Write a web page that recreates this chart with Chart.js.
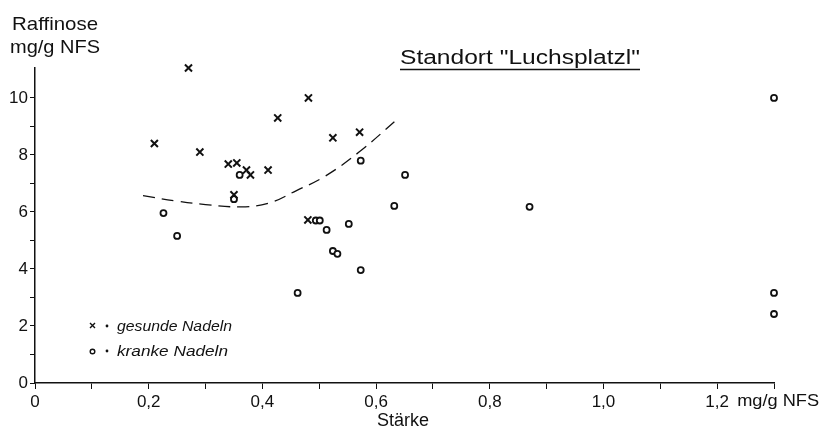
<!DOCTYPE html>
<html>
<head>
<meta charset="utf-8">
<script src="https://cdn.jsdelivr.net/npm/chart.js@4.4.0/dist/chart.umd.min.js"></script>
<style>
html,body{margin:0;padding:0;background:#fff;}
#wrap{width:830px;height:435px;}
</style>
</head>
<body>
<div id="wrap"><canvas id="c" width="830" height="435"></canvas></div>
<script>
// ---- data ----
const healthyX = [0.21, 0.27, 0.29, 0.34, 0.355, 0.35, 0.372, 0.379, 0.41, 0.427, 0.481, 0.524, 0.571, 0.48];
const healthyY = [8.4, 11.05, 8.1, 7.68, 7.72, 6.6, 7.47, 7.3, 7.47, 9.3, 10.0, 8.6, 8.8, 5.72];

const diseasedX = [0.226, 0.25, 0.36, 0.35, 0.462, 0.494, 0.501, 0.513, 0.524, 0.532, 0.552, 0.573, 0.573, 0.632, 0.651, 0.87, 1.3, 1.3, 1.3];
const diseasedY = [5.96, 5.16, 7.3, 6.45, 3.16, 5.7, 5.7, 5.37, 4.63, 4.53, 5.58, 7.8, 3.96, 6.21, 7.3, 6.18, 10.0, 3.16, 2.42];

const curveX = [0.19, 0.25, 0.30, 0.36, 0.41, 0.46, 0.51, 0.57, 0.64];
const curveY = [6.57, 6.38, 6.26, 6.18, 6.30, 6.75, 7.25, 8.10, 9.30];

const xTickValues = [0, 0.1, 0.2, 0.3, 0.4, 0.5, 0.6, 0.7, 0.8, 0.9, 1.0, 1.1, 1.2, 1.3];
const xTickLabels = ['0', '', '0,2', '', '0,4', '', '0,6', '', '0,8', '', '1,0', '', '1,2', ''];
const yTickValues = [0, 1, 2, 3, 4, 5, 6, 7, 8, 9, 10];
const yTickLabels = ['0', '', '2', '', '4', '', '6', '', '8', '', '10'];

const titleText = 'Standort "Luchsplatzl"';
const yTitleLines = ['Raffinose', 'mg/g NFS'];
const xTitleText = 'Stärke';
const xUnitText = 'mg/g NFS';
const legendMarks = ['x', 'o'];
const legendLabels = ['gesunde Nadeln', 'kranke Nadeln'];
const seriesNames = ['gesunde Nadeln', 'kranke Nadeln', 'Trend'];

const FONT = '"Liberation Sans", "DejaVu Sans", sans-serif';
const INK = '#111';

function pts(xs, ys) { return xs.map((x, i) => ({ x: x, y: ys[i] })); }

function fitText(ctx, text, x, y, targetW) {
  const w = ctx.measureText(text).width;
  const s = targetW / w;
  ctx.save();
  ctx.translate(x, y);
  ctx.scale(s, 1);
  ctx.fillText(text, 0, 0);
  ctx.restore();
}

const textPlugin = {
  id: 'texts',
  afterDraw(chart) {
    const ctx = chart.ctx;
    const xs = chart.scales.x;
    ctx.save();
    ctx.fillStyle = INK;
    ctx.strokeStyle = INK;
    ctx.textAlign = 'left';
    ctx.textBaseline = 'alphabetic';
    // title with underline
    ctx.font = '20px ' + FONT;
    const tx = 400, tw = 240;
    fitText(ctx, titleText, tx, 64, tw);
    ctx.lineWidth = 1.3;
    ctx.beginPath();
    ctx.moveTo(tx, 69.5);
    ctx.lineTo(tx + tw, 69.5);
    ctx.stroke();
    // y title
    ctx.font = '19px ' + FONT;
    fitText(ctx, yTitleLines[0], 12, 30, 86);
    fitText(ctx, yTitleLines[1], 10, 53, 90);
    // x title
    ctx.font = '18px ' + FONT;
    fitText(ctx, xTitleText, 377, 426, 52);
    // unit after last labelled tick
    ctx.font = '17px ' + FONT;
    const px12 = xs.getPixelForValue(1.2);
    fitText(ctx, xUnitText, px12 + 20, 406, 82);
    // legend
    ctx.font = 'italic 15px ' + FONT;
    const rowsY = [331, 356];
    for (let i = 0; i < legendLabels.length; i++) {
      const y = rowsY[i];
      ctx.lineWidth = 1.4;
      if (legendMarks[i] === 'x') {
        ctx.beginPath();
        ctx.moveTo(90, y - 8); ctx.lineTo(95, y - 3);
        ctx.moveTo(95, y - 8); ctx.lineTo(90, y - 3);
        ctx.stroke();
      } else {
        ctx.beginPath();
        ctx.arc(92.5, y - 4.5, 2.3, 0, Math.PI * 2);
        ctx.stroke();
      }
      ctx.beginPath();
      ctx.arc(107, y - 5, 1.4, 0, Math.PI * 2);
      ctx.fill();
      fitText(ctx, legendLabels[i], 117, y, i === 0 ? 115 : 111);
    }
    ctx.restore();
  }
};

new Chart(document.getElementById('c'), {
  type: 'scatter',
  data: {
    datasets: [
      {
        label: seriesNames[0],
        data: pts(healthyX, healthyY),
        clip: false,
        pointStyle: 'crossRot',
        pointRadius: 5,
        pointBorderWidth: 2,
        borderColor: INK,
        backgroundColor: INK,
        pointHoverRadius: 5
      },
      {
        label: seriesNames[1],
        data: pts(diseasedX, diseasedY),
        clip: false,
        pointStyle: 'circle',
        pointRadius: 3,
        pointBorderWidth: 1.8,
        borderColor: INK,
        backgroundColor: '#fff',
        pointHoverRadius: 3
      },
      {
        label: seriesNames[2],
        type: 'line',
        data: pts(curveX, curveY),
        showLine: true,
        pointRadius: 0,
        borderColor: INK,
        borderWidth: 1.3,
        borderDash: [12, 7],
        tension: 0.4,
        fill: false
      }
    ]
  },
  options: {
    responsive: false,
    animation: false,
    events: [],
    layout: { padding: { top: 68, right: 56, left: 0, bottom: 0 } },
    plugins: {
      legend: { display: false },
      tooltip: { enabled: false },
      title: { display: false }
    },
    scales: {
      x: {
        type: 'linear',
        min: 0,
        max: 1.3,
        afterBuildTicks: (axis) => { axis.ticks = xTickValues.map(v => ({ value: v })); },
        afterFit: (axis) => { axis.height = 52; },
        grid: { drawOnChartArea: false, drawTicks: true, tickLength: 6, color: INK, lineWidth: 1 },
        border: { display: true, color: INK, width: 1.5 },
        ticks: {
          autoSkip: false,
          maxRotation: 0,
          color: INK,
          font: { family: FONT, size: 17 },
          padding: 3,
          callback: (v, i) => xTickLabels[i]
        }
      },
      y: {
        type: 'linear',
        min: 0,
        max: 11.05,
        afterBuildTicks: (axis) => { axis.ticks = yTickValues.map(v => ({ value: v })); },
        afterFit: (axis) => { axis.width = 35; },
        grid: { drawOnChartArea: false, drawTicks: true, tickLength: 5, color: INK, lineWidth: 1 },
        border: { display: true, color: INK, width: 1.5 },
        ticks: {
          autoSkip: false,
          color: INK,
          font: { family: FONT, size: 17 },
          padding: 2,
          callback: (v, i) => yTickLabels[i]
        }
      }
    }
  },
  plugins: [textPlugin]
});
</script>
</body>
</html>
